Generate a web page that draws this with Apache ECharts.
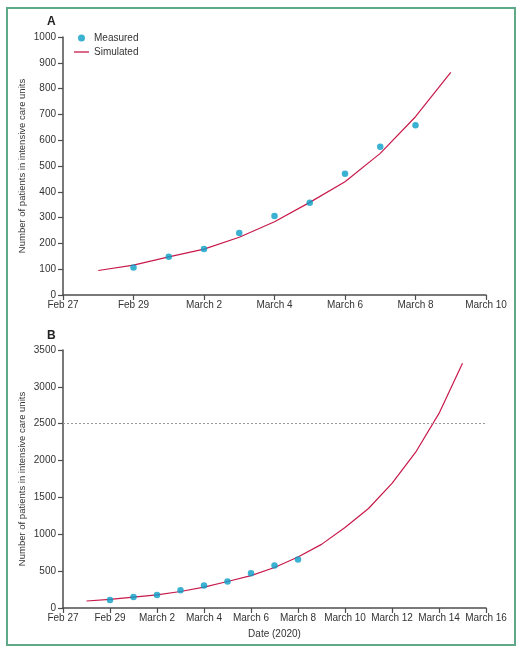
<!DOCTYPE html>
<html>
<head>
<meta charset="utf-8">
<script src="https://cdn.jsdelivr.net/npm/echarts@6/dist/echarts.min.js"></script>
<style>
html,body{margin:0;padding:0;background:#fff;}
#chart{width:522px;height:651px;}
</style>
</head>
<body>
<div id="chart"></div>
<script>
// Day index: 0 = Feb 27, 2020
const xTickLabelsA = ['Feb 27','Feb 29','March 2','March 4','March 6','March 8','March 10'];
const xTickLabelsB = ['Feb 27','Feb 29','March 2','March 4','March 6','March 8','March 10','March 12','March 14','March 16'];
const measuredDays = [2,3,4,5,6,7,8,9,10];
const measuredValues = [107,148,178,240,306,358,470,575,658];
const simulatedDaysA = [1,2,3,4,5,6,7,8,9,10,11];
const simulatedValuesA = [95,116,148,178,224,284,359,439,549,691,863];
const simulatedDaysB = [1,2,3,4,5,6,7,8,9,10,11,12,13,14,15,16,17];
const simulatedValuesB = [95,116,148,178,224,284,359,439,549,691,863,1092,1350,1690,2110,2640,3320];
const capacityLine = 2500;

const FONT = '"Liberation Sans",Arial,sans-serif';
const AXIS_COLOR = '#4d4d4d';
const TEXT_COLOR = '#333';
const LINE_COLOR = '#c8194b';
const DOT_COLOR = '#0a9fc7';

function pairs(xs, ys){ return xs.map((x,i)=>[x, ys[i]]); }

function xAxis(gridIndex, max, labels, name){
  return {
    type:'value', gridIndex, min:0, max, interval:2,
    name: name || '', nameLocation:'middle', nameGap:21, nameMoveOverlap:false,
    nameTextStyle:{fontFamily:FONT, fontSize:10, color:TEXT_COLOR},
    axisLine:{show:true, lineStyle:{color:AXIS_COLOR, width:1.5}},
    axisTick:{show:true, length:5, lineStyle:{color:AXIS_COLOR, width:1.2}},
    axisLabel:{fontFamily:FONT, fontSize:10, color:TEXT_COLOR, margin:5,
      formatter:(v)=>labels[Math.round(v/2)]},
    splitLine:{show:false}
  };
}
function yAxis(gridIndex, max, interval){
  return {
    type:'value', gridIndex, min:0, max, interval,
    name:'Number of patients in intensive care units', nameLocation:'middle', nameGap:36,
    nameMoveOverlap:false,
    nameTextStyle:{fontFamily:FONT, fontSize:9.5, color:TEXT_COLOR},
    axisLine:{show:true, lineStyle:{color:AXIS_COLOR, width:1.5}},
    axisTick:{show:true, length:5, lineStyle:{color:AXIS_COLOR, width:1.2}},
    axisLabel:{fontFamily:FONT, fontSize:10, color:TEXT_COLOR, margin:7,
      formatter:(v)=>String(v)},
    splitLine:{show:false}
  };
}

const chart = echarts.init(document.getElementById('chart'), null, {renderer:'canvas'});
chart.setOption({
  animation:false,
  backgroundColor:'#fff',
  graphic:[{type:'rect', shape:{x:7, y:8, width:508, height:637},
    style:{fill:'none', stroke:'#5fa888', lineWidth:2}, z:-1}],
  title:[
    {text:'A', left:42, top:11, textStyle:{fontFamily:FONT, fontSize:12, fontWeight:'bold', color:'#222'}},
    {text:'B', left:42, top:325, textStyle:{fontFamily:FONT, fontSize:12, fontWeight:'bold', color:'#222'}}
  ],
  legend:{
    left:69, top:27, orient:'vertical', itemWidth:15, itemHeight:7, itemGap:2,
    textStyle:{fontFamily:FONT, fontSize:10, color:TEXT_COLOR, lineHeight:12},
    data:[{name:'Measured', icon:'circle'},
          {name:'Simulated', icon:'path://M0,0 L15,0 L15,1.3 L0,1.3 Z'}]
  },
  grid:[
    {left:63, right:36, top:37, bottom:356},
    {left:63, right:36, top:350, bottom:43}
  ],
  xAxis:[xAxis(0, 12, xTickLabelsA), xAxis(1, 18, xTickLabelsB, 'Date (2020)')],
  yAxis:[yAxis(0, 1000, 100), yAxis(1, 3500, 500)],
  series:[
    {name:'Simulated', type:'line', xAxisIndex:0, yAxisIndex:0, symbol:'none',
      lineStyle:{color:LINE_COLOR, width:1.2}, itemStyle:{color:LINE_COLOR},
      data:pairs(simulatedDaysA, simulatedValuesA), z:2},
    {name:'Measured', type:'scatter', xAxisIndex:0, yAxisIndex:0, symbol:'circle', symbolSize:6.5,
      itemStyle:{color:DOT_COLOR}, data:pairs(measuredDays, measuredValues), z:3},
    {name:'Simulated', type:'line', xAxisIndex:1, yAxisIndex:1, symbol:'none',
      lineStyle:{color:LINE_COLOR, width:1.2}, itemStyle:{color:LINE_COLOR},
      data:pairs(simulatedDaysB, simulatedValuesB), z:2,
      markLine:{silent:true, symbol:'none', label:{show:false},
        lineStyle:{color:'#999', type:[2,2], width:1},
        data:[{yAxis:capacityLine}]}},
    {name:'Measured', type:'scatter', xAxisIndex:1, yAxisIndex:1, symbol:'circle', symbolSize:6.5,
      itemStyle:{color:DOT_COLOR}, data:pairs(measuredDays, measuredValues), z:3}
  ]
});
</script>
</body>
</html>
